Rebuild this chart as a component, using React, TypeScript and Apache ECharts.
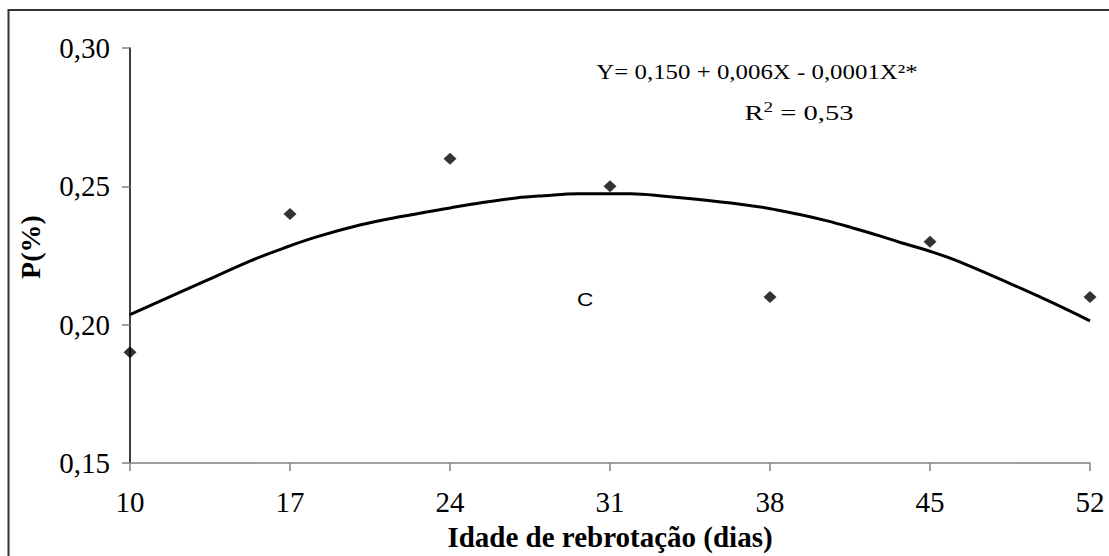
import React, { useEffect, useRef } from "react";
import * as echarts from "echarts";

// Regrowth age (days) and measured phosphorus content (%)
const ages = [10, 17, 24, 31, 38, 45, 52];
const phosphorus = [0.19, 0.24, 0.26, 0.25, 0.21, 0.23, 0.21];

// Fitted quadratic trend, sampled along the regrowth period
const trendAges = [
  10, 13.4, 15.25, 16.7, 18.2, 20.1, 21.8, 24, 25.3, 26.9, 28.1, 29.6, 31.9, 33.5, 34.9, 36.7,
  37.9, 39.3, 40.5, 41.6, 42.8, 43.7, 44.9, 46.3, 49.9, 52,
];
const trendValues = [
  0.2036, 0.2162, 0.223, 0.2276, 0.2318, 0.2361, 0.239, 0.2422, 0.244, 0.2458, 0.2466, 0.2473,
  0.2473, 0.2463, 0.2452, 0.2435, 0.2421, 0.2398, 0.2375, 0.235, 0.2321, 0.2297, 0.2268, 0.2227,
  0.2097, 0.2014,
];

const equationLine = "Y= 0,150 + 0,006X - 0,0001X²*";
const r2Value = "0,53";
const groupLetter = "C";
const xAxisTitle = "Idade de rebrotação (dias)";
const yAxisTitle = "P(%)";

const SERIF = '"Liberation Serif", "Times New Roman", serif';

export default function App() {
  const ref = useRef<HTMLDivElement>(null);

  useEffect(() => {
    if (!ref.current) return;
    const chart = echarts.init(ref.current, null, { renderer: "svg" });

    const points = ages.map((a, i) => [a, phosphorus[i]]);
    const trend = trendAges.map((a, i) => [a, trendValues[i]]);

    chart.setOption({
      animation: false,
      backgroundColor: "#ffffff",
      grid: { left: 130, right: 19, top: 48, bottom: 93, containLabel: false },
      xAxis: {
        type: "value",
        min: 10,
        max: 52,
        interval: 7,
        axisLine: { show: true, lineStyle: { color: "#808080", width: 1.5 } },
        axisTick: { show: true, inside: false, length: 8, lineStyle: { color: "#808080", width: 1.5 } },
        axisLabel: { color: "#000", fontFamily: SERIF, fontSize: 29, margin: 24 },
        splitLine: { show: false },
      },
      yAxis: {
        type: "value",
        min: 0.15,
        max: 0.3,
        interval: 0.05,
        axisLine: { show: true, lineStyle: { color: "#000", width: 1.5 } },
        axisTick: { show: true, inside: false, length: 8, lineStyle: { color: "#808080", width: 1.5 } },
        axisLabel: {
          color: "#000",
          fontFamily: SERIF,
          fontSize: 29,
          margin: 20,
          formatter: (v: number) => v.toFixed(2).replace(".", ","),
        },
        splitLine: { show: false },
      },
      series: [
        {
          type: "line",
          data: trend,
          smooth: 0.4,
          showSymbol: false,
          symbol: "none",
          lineStyle: { color: "#000", width: 3 },
          z: 2,
        },
        {
          type: "scatter",
          data: points,
          symbol: "diamond",
          symbolSize: [13, 12],
          itemStyle: { color: "#000" },
          z: 3,
        },
      ],
      graphic: [
        {
          type: "rect",
          shape: { x: 8.5, y: 10, width: 1120, height: 570 },
          style: { fill: "none", stroke: "#333", lineWidth: 2 },
          silent: true,
        },
        {
          type: "text",
          x: 757,
          y: 72,
          scaleX: 1.13,
          style: {
            text: equationLine,
            fontFamily: SERIF,
            fontSize: 22,
            fill: "#000",
            align: "center",
            verticalAlign: "middle",
          },
        },
        {
          type: "text",
          x: 799,
          y: 113,
          scaleX: 1.36,
          style: {
            text: "R{sup|2} = " + r2Value,
            fontFamily: SERIF,
            fontSize: 21,
            fill: "#000",
            align: "center",
            verticalAlign: "middle",
            rich: {
              sup: { fontFamily: SERIF, fontSize: 14, verticalAlign: "top", padding: [0, 0, 12, 0] },
            },
          },
        },
        {
          type: "text",
          x: 585,
          y: 300,
          scaleX: 1.25,
          style: {
            text: groupLetter,
            fontFamily: '"Liberation Sans", Arial, sans-serif',
            fontSize: 18,
            fill: "#000",
            align: "center",
            verticalAlign: "middle",
          },
        },
        {
          type: "text",
          x: 610,
          y: 537,
          style: {
            text: xAxisTitle,
            fontFamily: SERIF,
            fontWeight: "bold",
            fontSize: 29,
            fill: "#000",
            align: "center",
            verticalAlign: "middle",
          },
        },
        {
          type: "text",
          x: 30,
          y: 247,
          rotation: Math.PI / 2,
          style: {
            text: yAxisTitle,
            fontFamily: SERIF,
            fontWeight: "bold",
            fontSize: 28,
            fill: "#000",
            align: "center",
            verticalAlign: "middle",
          },
        },
      ],
    });

    return () => chart.dispose();
  }, []);

  return (
    <div
      ref={ref}
      style={{ position: "absolute", left: 0, top: 0, width: 1109, height: 556, background: "#fff" }}
    />
  );
}
